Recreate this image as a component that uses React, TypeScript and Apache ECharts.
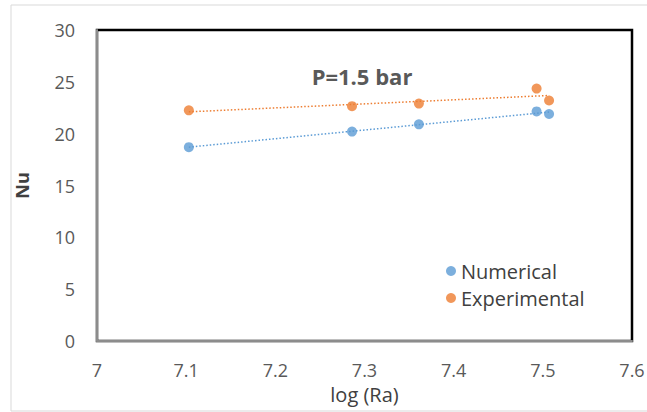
import React, { useEffect, useRef } from "react";
import * as echarts from "echarts";

const logRa = [7.103, 7.286, 7.361, 7.493, 7.507];
const numericalNu = [18.7, 20.2, 20.9, 22.15, 21.9];
const experimentalNu = [22.25, 22.65, 22.9, 24.35, 23.2];
const xTicks = [7, 7.1, 7.2, 7.3, 7.4, 7.5, 7.6];
const titleText = "P=1.5 bar";

const BLUE = "#5B9BD5";
const ORANGE = "#ED7D31";
const FONT = "'Open Sans', Lato, sans-serif";

function fit(xs: number[], ys: number[]) {
  const n = xs.length;
  const mx = xs.reduce((a, b) => a + b, 0) / n;
  const my = ys.reduce((a, b) => a + b, 0) / n;
  let sxy = 0, sxx = 0;
  for (let i = 0; i < n; i++) {
    sxy += (xs[i] - mx) * (ys[i] - my);
    sxx += (xs[i] - mx) * (xs[i] - mx);
  }
  const b = sxy / sxx;
  const a = my - b * mx;
  const x0 = Math.min(...xs);
  const x1 = Math.max(...xs);
  return [[x0, a + b * x0], [x1, a + b * x1]];
}

export default function App() {
  const ref = useRef<HTMLDivElement>(null);
  useEffect(() => {
    if (!ref.current) return;
    const chart = echarts.init(ref.current, null, { renderer: "svg" });
    const numPts = logRa.map((x, i) => [x, numericalNu[i]]);
    const expPts = logRa.map((x, i) => [x, experimentalNu[i]]);
    chart.setOption({
      animation: false,
      backgroundColor: "#ffffff",
      textStyle: { fontFamily: FONT },
      grid: {
        left: 97, right: 15, top: 30, bottom: 71,
        outerBoundsMode: "none",
        containLabel: false,
        show: true, borderColor: "#000000", borderWidth: 2.5,
      },
      title: {
        text: titleText,
        left: 357, top: 60, textAlign: "center",
        textStyle: { fontFamily: FONT, fontSize: 22, fontWeight: "bold", color: "#595959" },
      },
      legend: {
        data: ["Numerical", "Experimental"],
        orient: "vertical",
        left: 441, top: 256,
        icon: "circle",
        itemWidth: 10, itemHeight: 10, itemGap: 7,
        textStyle: { fontFamily: FONT, fontSize: 20, color: "#404040" },
      },
      graphic: [
        {
          type: "rect", silent: true, z: -1,
          shape: { x: 11, y: 5, width: 640, height: 406 },
          style: { fill: "none", stroke: "#d9d9d9", lineWidth: 1 },
        },
      ],
      xAxis: {
        type: "value", min: 7, max: 7.6, interval: 0.1,
        name: "log (Ra)", nameLocation: "middle", nameGap: 43,
        nameMoveOverlap: false,
        nameTextStyle: { fontFamily: FONT, fontSize: 20, color: "#404040" },
        axisLine: { show: true, onZero: false, lineStyle: { color: "#8c8c8c", width: 2 } },
        axisTick: { show: false },
        splitLine: { show: false },
        axisLabel: {
          margin: 20, fontSize: 18, color: "#595959", fontFamily: FONT,
          formatter: (v: number) => {
            const t = xTicks.find((k) => Math.abs(k - v) < 1e-6);
            return t === undefined ? "" : String(t);
          },
        },
      },
      yAxis: {
        type: "value", min: 0, max: 30, interval: 5,
        name: "Nu", nameLocation: "middle", nameGap: 66,
        nameMoveOverlap: false,
        nameTextStyle: { fontFamily: FONT, fontSize: 18, fontWeight: "bold", color: "#404040" },
        axisLine: { show: true, lineStyle: { color: "#8c8c8c", width: 2 } },
        axisTick: { show: false },
        splitLine: { show: false },
        axisLabel: { margin: 22, fontSize: 18, color: "#595959", fontFamily: FONT },
      },
      series: [
        {
          name: "Numerical trend", type: "line", data: fit(logRa, numericalNu),
          symbol: "none", silent: true,
          lineStyle: { color: BLUE, width: 1.5, type: [1.5, 2] },
        },
        {
          name: "Experimental trend", type: "line", data: fit(logRa, experimentalNu),
          symbol: "none", silent: true,
          lineStyle: { color: ORANGE, width: 1.5, type: [1.5, 2] },
        },
        {
          name: "Numerical", type: "scatter", data: numPts,
          symbolSize: 10, itemStyle: { color: BLUE }, z: 3,
        },
        {
          name: "Experimental", type: "scatter", data: expPts,
          symbolSize: 10, itemStyle: { color: ORANGE }, z: 3,
        },
      ],
    });
    return () => chart.dispose();
  }, []);
  return (
    <div
      ref={ref}
      style={{ position: "fixed", left: 0, top: 0, width: 647, height: 412 }}
    />
  );
}
